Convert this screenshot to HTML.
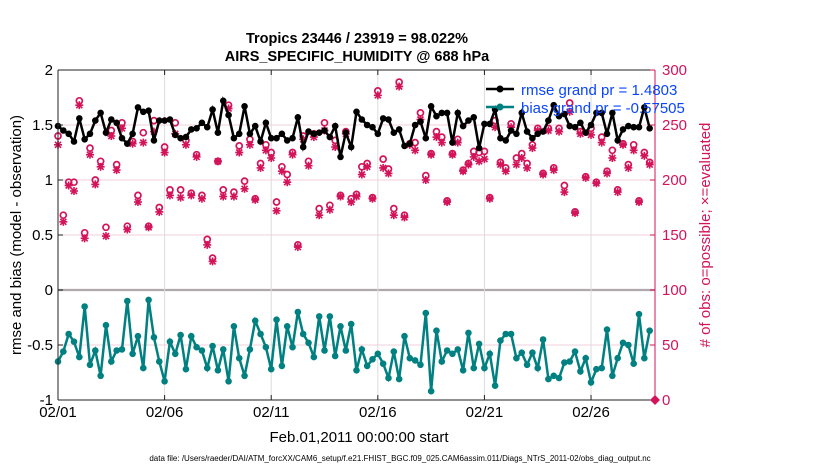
<!DOCTYPE html>
<html><head><meta charset="utf-8"><style>
body{margin:0;background:#fff;}
svg{display:block;font-family:"Liberation Sans",Arial,sans-serif;}
</style></head><body>
<svg id="chart" width="830" height="470" viewBox="0 0 830 470">
<g id="grid"></g>
<g id="series"></g>
<g id="axes"></g>
<text x="357" y="43" text-anchor="middle" font-size="14.5" font-weight="bold">Tropics 23446 / 23919 = 98.022%</text>
<text x="357" y="61" text-anchor="middle" font-size="14.5" font-weight="bold">AIRS_SPECIFIC_HUMIDITY @ 688 hPa</text>
<text transform="translate(21,235) rotate(-90)" text-anchor="middle" font-size="15">rmse and bias (model - observation)</text>
<text transform="translate(710,235) rotate(-90)" text-anchor="middle" font-size="15" fill="#d3145a"># of obs: o=possible; ×=evaluated</text>
<text x="359" y="442" text-anchor="middle" font-size="15">Feb.01,2011 00:00:00 start</text>
<text x="400" y="461" text-anchor="middle" font-size="8">data file: /Users/raeder/DAI/ATM_forcXX/CAM6_setup/f.e21.FHIST_BGC.f09_025.CAM6assim.011/Diags_NTrS_2011-02/obs_diag_output.nc</text>
<g>
<g>
<line x1="486" y1="89" x2="514" y2="89" stroke="#000" stroke-width="2.5"/>
<circle cx="500" cy="89" r="3.5" fill="#000"/>
<text x="521" y="95" font-size="15" fill="#0a45ff">rmse grand pr = 1.4803</text></g>
<g>
<line x1="486" y1="107" x2="514" y2="107" stroke="#008080" stroke-width="2.5"/>
<circle cx="500" cy="107" r="3.5" fill="#008080"/>
<text x="521" y="113" font-size="15" fill="#0a45ff">bias grand pr = -0.57505</text></g>
</g>
</svg>
<script>
const rmse=[1.49,1.45,1.42,1.35,1.56,1.37,1.42,1.54,1.61,1.43,1.55,1.52,1.38,1.33,1.42,1.66,1.62,1.63,1.36,1.54,1.54,1.55,1.41,1.38,1.39,1.46,1.47,1.52,1.48,
1.64,1.43,1.72,1.59,1.38,1.42,1.67,1.42,1.49,1.35,1.52,1.38,1.38,1.42,1.36,1.38,1.57,1.30,1.44,1.42,1.43,1.45,1.39,1.49,1.21,1.43,1.30,1.62,
1.55,1.50,1.48,1.42,1.56,1.55,1.43,1.46,1.31,1.33,1.50,1.53,1.38,1.67,1.58,1.61,1.61,1.34,1.61,1.49,1.54,1.57,1.29,1.51,1.51,1.64,1.38,1.36,
1.45,1.42,1.61,1.44,1.38,1.42,1.44,1.54,1.68,1.58,1.60,1.49,1.48,1.52,1.43,1.50,1.61,1.61,1.42,1.61,1.36,1.46,1.49,1.48,1.48,1.66,1.47];
const bias=[-0.65,-0.56,-0.40,-0.47,-0.61,-0.15,-0.68,-0.55,-0.78,-0.32,-0.65,-0.55,-0.54,-0.10,-0.58,-0.42,-0.71,-0.09,-0.43,-0.65,-0.83,-0.47,-0.58,-0.41,-0.72,-0.42,-0.52,-0.55,-0.71,
-0.51,-0.73,-0.54,-0.83,-0.33,-0.62,-0.78,-0.54,-0.28,-0.40,-0.52,-0.72,-0.27,-0.69,-0.33,-0.52,-0.20,-0.40,-0.48,-0.61,-0.24,-0.55,-0.24,-0.60,-0.33,-0.55,-0.31,-0.73,
-0.54,-0.69,-0.63,-0.58,-0.67,-0.80,-0.56,-0.81,-0.42,-0.62,-0.64,-0.68,-0.21,-0.92,-0.37,-0.65,-0.55,-0.58,-0.54,-0.73,-0.39,-0.71,-0.49,-0.71,-0.58,-0.87,-0.46,-0.40,
-0.40,-0.62,-0.57,-0.68,-0.57,-0.71,-0.45,-0.81,-0.78,-0.80,-0.66,-0.65,-0.56,-0.74,-0.62,-0.84,-0.72,-0.71,-0.36,-0.78,-0.62,-0.48,-0.50,-0.67,-0.22,-0.62,-0.37];
const possible=[240,168,198,198,272,152,229,200,217,157,245,214,252,158,235,186,243,158,254,175,230,191,252,191,236,188,223,186,146,
129,217,191,268,189,231,199,237,183,215,232,225,180,212,205,225,141,240,217,242,174,252,177,236,186,244,183,187,
212,215,184,281,219,210,174,289,168,233,234,261,204,224,244,239,181,224,237,209,215,226,225,226,184,254,216,211,
251,220,224,215,232,247,206,247,211,247,195,270,171,244,203,247,198,239,208,227,191,233,214,232,181,225,216];
const evaluated=[232,162,195,190,268,147,223,196,212,149,240,209,247,155,233,180,234,157,244,171,225,186,242,184,232,186,221,183,141,
126,217,185,265,185,225,192,232,182,211,227,220,172,208,198,223,139,237,213,239,168,245,173,230,185,242,180,185,
205,212,183,277,211,206,168,285,166,232,227,255,200,223,239,234,180,223,234,208,214,221,217,219,183,248,214,208,
248,214,220,211,229,245,205,245,209,244,189,262,170,242,202,241,197,234,206,220,189,232,211,227,180,222,214];
const xTickLabels=["02/01","02/06","02/11","02/16","02/21","02/26"];
const xTickDays=[0,5,10,15,20,25];
const leftTicks=[2,1.5,1,0.5,0,-0.5,-1];
const rightTicks=[300,250,200,150,100,50,0];
const stepsPerDay=4;

const NS="http://www.w3.org/2000/svg";
const L=58,R=655,T=70,B=400;
const xDay=d=>L+d*(R-L)/28;
const xi=i=>xDay(i/stepsPerDay);
const yL=v=>B-(v+1)*(B-T)/3;
const yR=v=>B-v*(B-T)/300;
function mk(tag,attrs,parent){const e=document.createElementNS(NS,tag);for(const k in attrs)e.setAttribute(k,attrs[k]);parent.appendChild(e);return e;}
const grid=document.getElementById('grid'),series=document.getElementById('series'),axes=document.getElementById('axes');
mk('rect',{x:L,y:T,width:R-L,height:B-T,fill:'#fff'},grid);
rightTicks.forEach(v=>{if(v===0||v===300)return;const y=yR(v);
 const g=mk('line',{x1:L,y1:y,x2:R,y2:y,stroke:v===100?'#b0a8ac':'#f3cfdc','stroke-width':v===100?2.2:1},grid);
 
 });
xTickDays.forEach((d,k)=>{const x=xDay(d);
 if(k>0){const g=mk('line',{x1:x,y1:T,x2:x,y2:B,stroke:'#dcdcdc','stroke-width':1},grid);
 
 }
 mk('line',{x1:x,y1:B,x2:x,y2:B-5,stroke:'#222'},axes);
 mk('line',{x1:x,y1:T,x2:x,y2:T+5,stroke:'#222'},axes);
 const t=mk('text',{x:x,y:B+17,'text-anchor':'middle','font-size':15},axes);t.textContent=xTickLabels[k];
 
 });
function star(x,y,p){const g=mk('g',{stroke:'#d3145a','stroke-width':1.6},p);const r=4;
 mk('line',{x1:x-r,y1:y,x2:x+r,y2:y},g);mk('line',{x1:x,y1:y-r,x2:x,y2:y+r},g);
 mk('line',{x1:x-3,y1:y-3,x2:x+3,y2:y+3},g);mk('line',{x1:x-3,y1:y+3,x2:x+3,y2:y-3},g);return g;}
possible.forEach((v,i)=>{const c=mk('circle',{cx:xi(i),cy:yR(v),r:3,fill:'none',stroke:'#d3145a','stroke-width':1.7},series);
 
 });
evaluated.forEach((v,i)=>{const g=star(xi(i),yR(v),series);
 
 });
function line(arr,col,name){const pts=arr.map((v,i)=>xi(i).toFixed(1)+','+yL(v).toFixed(1)).join(' ');
 const pl=mk('polyline',{points:pts,fill:'none',stroke:col,'stroke-width':2.5},series);
 
 
 arr.forEach((v,i)=>{const c=mk('circle',{cx:xi(i),cy:yL(v),r:3.3,fill:col},series);
 
 });}
line(rmse,'#000','rmse');
line(bias,'#008080','bias');
mk('line',{x1:L,y1:T,x2:R,y2:T,stroke:'#222'},axes);
mk('line',{x1:L,y1:B,x2:R,y2:B,stroke:'#222'},axes);
mk('line',{x1:L,y1:T,x2:L,y2:B,stroke:'#222'},axes);
mk('line',{x1:R,y1:T,x2:R,y2:B,stroke:'#d3145a'},axes);
leftTicks.forEach(v=>{const y=yL(v);mk('line',{x1:L,y1:y,x2:L+5,y2:y,stroke:'#222'},axes);
 const t=mk('text',{x:L-5,y:y+5,'text-anchor':'end','font-size':15},axes);t.textContent=v;
 
 });
rightTicks.forEach(v=>{const y=yR(v);mk('line',{x1:R-5,y1:y,x2:R,y2:y,stroke:'#d3145a'},axes);
 const t=mk('text',{x:R+7,y:y+5,'font-size':15,fill:'#d3145a'},axes);t.textContent=v;
 
 });
const dm=mk('path',{d:`M${R} ${B-5} L${R+5} ${B} L${R} ${B+5} L${R-5} ${B} Z`,fill:'#d3145a'},axes);


</script>
</body></html>
